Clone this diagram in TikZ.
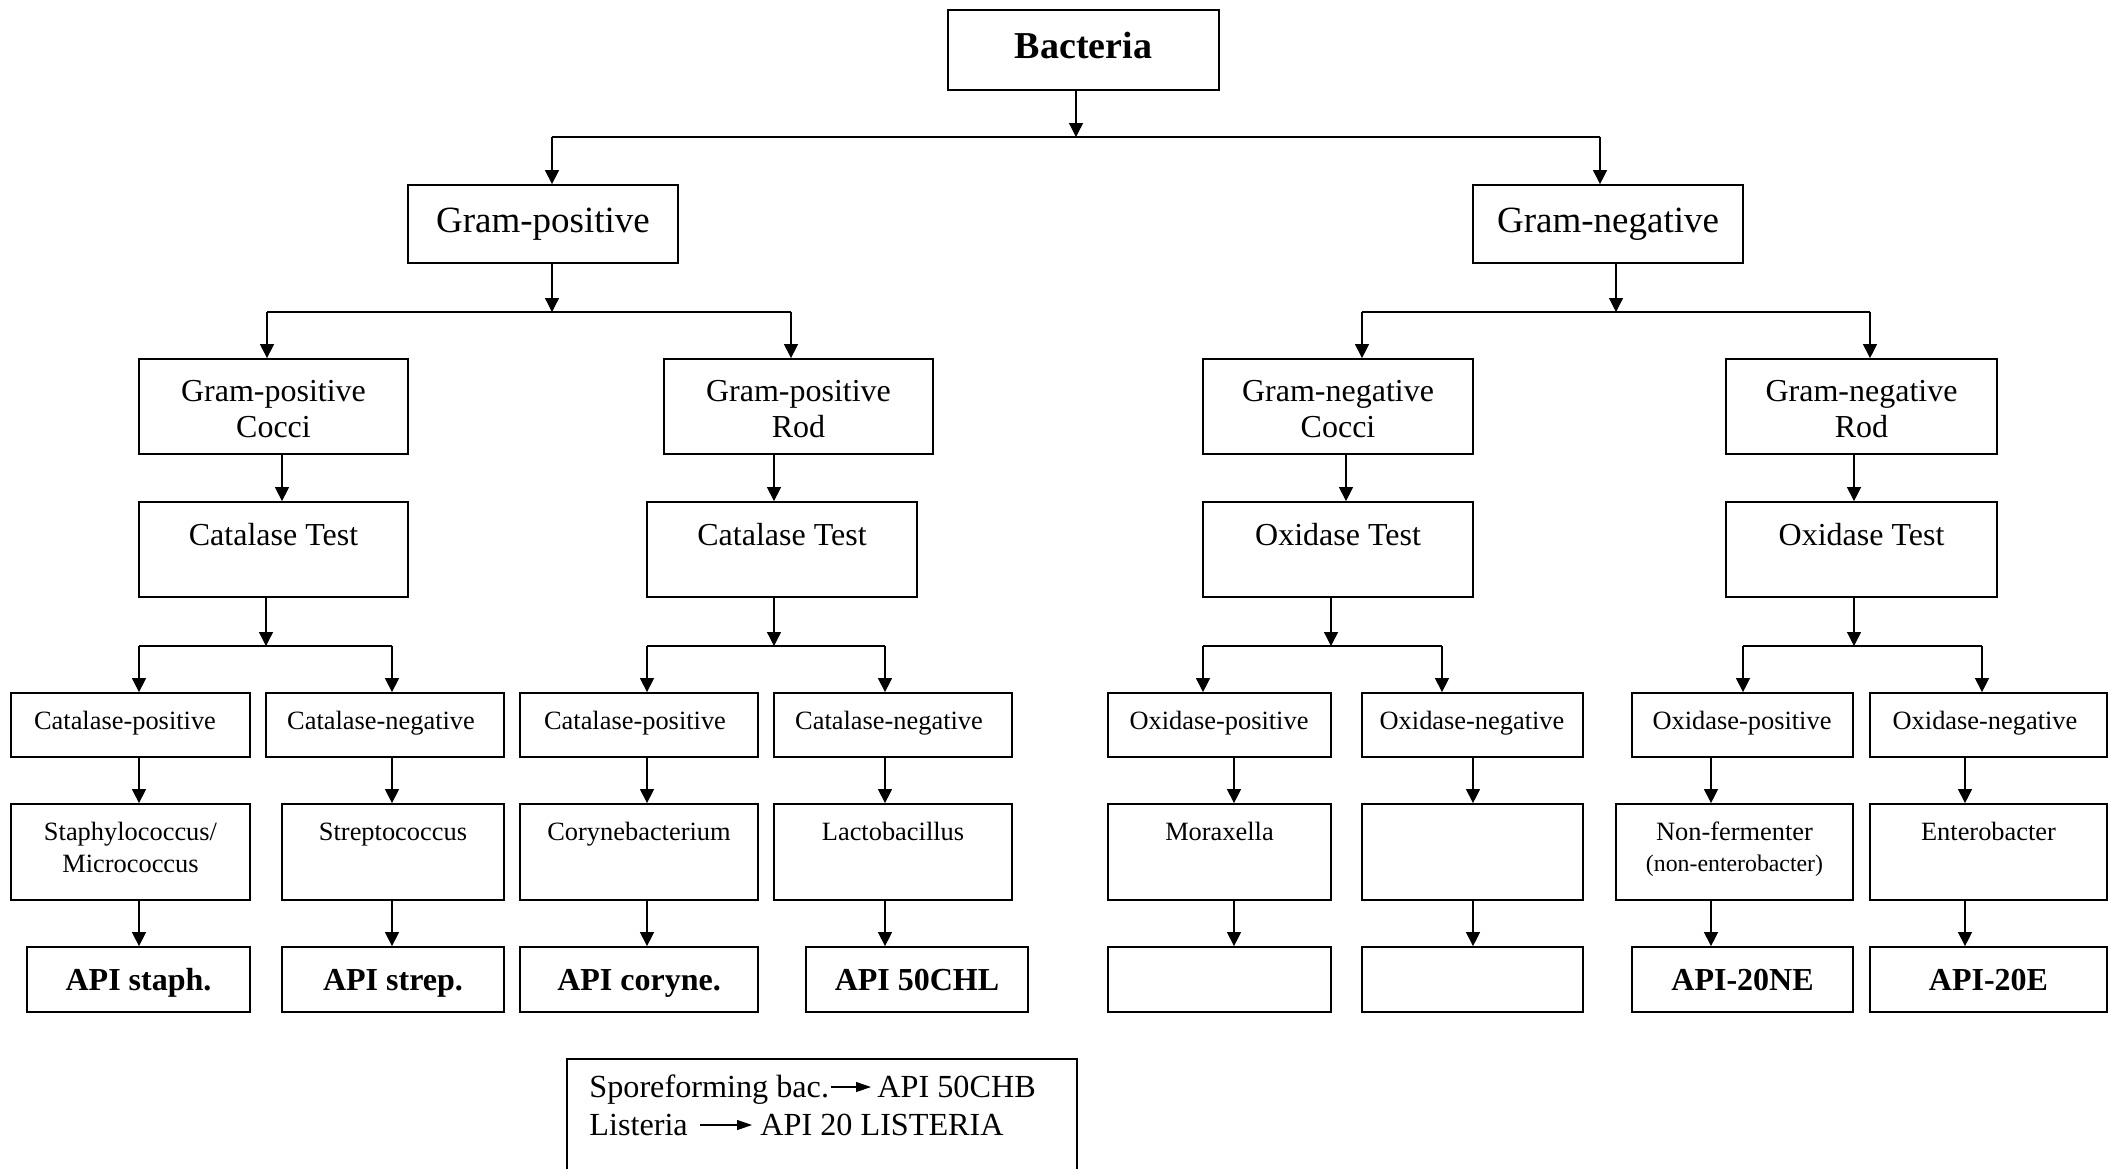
\documentclass[tikz,border=0pt]{standalone}
\usepackage{fontspec}
\setmainfont{Liberation Serif}
\usetikzlibrary{fit,arrows.meta}
\begin{document}
\begin{tikzpicture}[x=0.5pt,y=-0.5pt,
  box/.style={draw, line width=0.9pt, inner sep=0pt},
  ln/.style={line width=0.65pt},
  arr/.style={line width=0.65pt, -{Triangle[length=7pt,width=7pt]}},
  tarr/.style={line width=0.55pt, -{Triangle[length=7.5pt,width=5pt]}},
  tx/.style={inner sep=0pt, anchor=base},
  fb/.style={font=\fontsize{19}{22}\selectfont\bfseries},
  fl/.style={font=\fontsize{18.5}{22}\selectfont},
  fm/.style={font=\fontsize{16}{18}\selectfont},
  fs/.style={font=\fontsize{13.2}{15}\selectfont},
  fxs/.style={font=\fontsize{11.9}{14}\selectfont},
  fab/.style={font=\fontsize{16}{18}\selectfont\bfseries},
  fn/.style={font=\fontsize{16.1}{18}\selectfont},
]
\useasboundingbox (0,0) rectangle (2118,1168);
\clip (0,0) rectangle (2118,1168);

% ---------- boxes ----------
\node[box, fit={(948,10) (1219,90)}] (bact) {};
\node[box, fit={(408,185) (678,263)}] (gp) {};
\node[box, fit={(1473,185) (1743,263)}] (gn) {};

\node[box, fit={(139,359) (408,454)}] (gpc) {};
\node[box, fit={(664,359) (933,454)}] (gpr) {};
\node[box, fit={(1203,359) (1473,454)}] (gnc) {};
\node[box, fit={(1726,359) (1997,454)}] (gnr) {};

\node[box, fit={(139,502) (408,597)}] (cat1) {};
\node[box, fit={(647,502) (917,597)}] (cat2) {};
\node[box, fit={(1203,502) (1473,597)}] (ox1) {};
\node[box, fit={(1726,502) (1997,597)}] (ox2) {};

\node[box, fit={(11,693) (250,757)}] (cp1) {};
\node[box, fit={(266,693) (504,757)}] (cn1) {};
\node[box, fit={(520,693) (758,757)}] (cp2) {};
\node[box, fit={(774,693) (1012,757)}] (cn2) {};
\node[box, fit={(1108,693) (1331,757)}] (op1) {};
\node[box, fit={(1362,693) (1583,757)}] (on1) {};
\node[box, fit={(1632,693) (1853,757)}] (op2) {};
\node[box, fit={(1870,693) (2107,757)}] (on2) {};

\node[box, fit={(11,804) (250,900)}] (staph) {};
\node[box, fit={(282,804) (504,900)}] (strep) {};
\node[box, fit={(520,804) (758,900)}] (coryne) {};
\node[box, fit={(774,804) (1012,900)}] (lacto) {};
\node[box, fit={(1108,804) (1331,900)}] (morax) {};
\node[box, fit={(1362,804) (1583,900)}] (empA) {};
\node[box, fit={(1616,804) (1853,900)}] (nonf) {};
\node[box, fit={(1870,804) (2107,900)}] (entero) {};

\node[box, fit={(27,947) (250,1012)}] (apistaph) {};
\node[box, fit={(282,947) (504,1012)}] (apistrep) {};
\node[box, fit={(520,947) (758,1012)}] (apicor) {};
\node[box, fit={(806,947) (1028,1012)}] (apichl) {};
\node[box, fit={(1108,947) (1331,1012)}] (empB) {};
\node[box, fit={(1362,947) (1583,1012)}] (empC) {};
\node[box, fit={(1632,947) (1853,1012)}] (apine) {};
\node[box, fit={(1870,947) (2107,1012)}] (apie) {};

\node[box, fit={(567,1059) (1077,1220)}] (note) {};

% ---------- texts ----------
\node[tx, fb] (t-bact) at (1083.5,58) {Bacteria};
\node[tx, fl] (t-gp) at (543,232) {Gram-positive};
\node[tx, fl] (t-gn) at (1608,232) {Gram-negative};

\node[tx, fm] (t-gpc1) at (273.5,401) {Gram-positive};
\node[tx, fm] (t-gpc2) at (273.5,437) {Cocci};
\node[tx, fm] (t-gpr1) at (798.5,401) {Gram-positive};
\node[tx, fm] (t-gpr2) at (798.5,437) {Rod};
\node[tx, fm] (t-gnc1) at (1338,401) {Gram-negative};
\node[tx, fm] (t-gnc2) at (1338,437) {Cocci};
\node[tx, fm] (t-gnr1) at (1861.5,401) {Gram-negative};
\node[tx, fm] (t-gnr2) at (1861.5,437) {Rod};

\node[tx, fm] (t-cat1) at (273.5,545) {Catalase Test};
\node[tx, fm] (t-cat2) at (782,545) {Catalase Test};
\node[tx, fm] (t-ox1) at (1338,545) {Oxidase Test};
\node[tx, fm] (t-ox2) at (1861.5,545) {Oxidase Test};

\node[tx, fs] (t-cp1) at (125,729) {Catalase-positive};
\node[tx, fs] (t-cn1) at (381,729) {Catalase-negative};
\node[tx, fs] (t-cp2) at (635,729) {Catalase-positive};
\node[tx, fs] (t-cn2) at (889,729) {Catalase-negative};
\node[tx, fs] (t-op1) at (1219,729) {Oxidase-positive};
\node[tx, fs] (t-on1) at (1472,729) {Oxidase-negative};
\node[tx, fs] (t-op2) at (1742,729) {Oxidase-positive};
\node[tx, fs] (t-on2) at (1985,729) {Oxidase-negative};

\node[tx, fs] (t-staph1) at (130.5,840) {Staphylococcus/};
\node[tx, fs] (t-staph2) at (130.5,872) {Micrococcus};
\node[tx, fs] (t-strep) at (393,840) {Streptococcus};
\node[tx, fs] (t-coryne) at (639,840) {Corynebacterium};
\node[tx, fs] (t-lacto) at (893,840) {Lactobacillus};
\node[tx, fs] (t-morax) at (1219.5,840) {Moraxella};
\node[tx, fs] (t-nonf1) at (1734.5,840) {Non-fermenter};
\node[tx, fxs] (t-nonf2) at (1734.5,871) {(non-enterobacter)};
\node[tx, fs] (t-entero) at (1988.5,840) {Enterobacter};

\node[tx, fab] (t-apistaph) at (138.5,990) {API staph.};
\node[tx, fab] (t-apistrep) at (393,990) {API strep.};
\node[tx, fab] (t-apicor) at (639,990) {API coryne.};
\node[tx, fab] (t-apichl) at (917,990) {API 50CHL};
\node[tx, fab] (t-apine) at (1742.5,990) {API-20NE};
\node[tx, fab] (t-apie) at (1988.5,990) {API-20E};

\node[tx, fn, anchor=base west] (spore) at (589,1097) {Sporeforming bac.};
\node[tx, fn, anchor=base west] (chb) at (877,1097) {API 50CHB};
\node[tx, fn, anchor=base west] (list) at (589,1135) {Listeria};
\node[tx, fn, anchor=base west] (list20) at (760,1135) {API 20 LISTERIA};
\draw[tarr, shorten <=1pt, shorten >=3pt] ([yshift=5pt]spore.base east) -- ([yshift=5pt]chb.base west);
\draw[tarr, shorten <=6pt, shorten >=4pt] ([yshift=5pt]list.base east) -- ([yshift=5pt]list20.base west);

% ---------- junction coordinates ----------
\coordinate (j0) at (1076,137);
\coordinate (g1) at (552,137);
\coordinate (g2) at (1600,137);
\coordinate (j1) at (552,312);
\coordinate (h1) at (267,312);
\coordinate (h2) at (791,312);
\coordinate (j2) at (1616,312);
\coordinate (h3) at (1362,312);
\coordinate (h4) at (1870,312);
\coordinate (k1) at (282,0);
\coordinate (k2) at (774,0);
\coordinate (k3) at (1346,0);
\coordinate (k4) at (1854,0);
\coordinate (j3) at (266,646);
\coordinate (j4) at (774,646);
\coordinate (j5) at (1331,646);
\coordinate (j6) at (1854,646);
\coordinate (m1) at (139,646);
\coordinate (m2) at (392,646);
\coordinate (m3) at (647,646);
\coordinate (m4) at (885,646);
\coordinate (m5) at (1203,646);
\coordinate (m6) at (1442,646);
\coordinate (m7) at (1743,646);
\coordinate (m8) at (1982,646);
\coordinate (n1) at (139,0);
\coordinate (n2) at (392,0);
\coordinate (n3) at (647,0);
\coordinate (n4) at (885,0);
\coordinate (n5) at (1234,0);
\coordinate (n6) at (1473,0);
\coordinate (n7) at (1711,0);
\coordinate (n8) at (1965,0);

% ---------- connectors ----------
\draw[arr] (bact.south -| j0) -- (j0);
\draw[ln] (g1) -- (g2);
\draw[arr] (g1) -- (g1 |- gp.north);
\draw[arr] (g2) -- (g2 |- gn.north);

\draw[arr] (gp.south -| j1) -- (j1);
\draw[ln] (h1) -- (h2);
\draw[arr] (h1) -- (h1 |- gpc.north);
\draw[arr] (h2) -- (h2 |- gpr.north);
\draw[arr] (gn.south -| j2) -- (j2);
\draw[ln] (h3) -- (h4);
\draw[arr] (h3) -- (h3 |- gnc.north);
\draw[arr] (h4) -- (h4 |- gnr.north);

\draw[arr] (gpc.south -| k1) -- (cat1.north -| k1);
\draw[arr] (gpr.south -| k2) -- (cat2.north -| k2);
\draw[arr] (gnc.south -| k3) -- (ox1.north -| k3);
\draw[arr] (gnr.south -| k4) -- (ox2.north -| k4);

\draw[arr] (cat1.south -| j3) -- (j3);
\draw[arr] (cat2.south -| j4) -- (j4);
\draw[arr] (ox1.south -| j5) -- (j5);
\draw[arr] (ox2.south -| j6) -- (j6);
\draw[ln] (m1) -- (m2);
\draw[ln] (m3) -- (m4);
\draw[ln] (m5) -- (m6);
\draw[ln] (m7) -- (m8);
\draw[arr] (m1) -- (m1 |- cp1.north);
\draw[arr] (m2) -- (m2 |- cn1.north);
\draw[arr] (m3) -- (m3 |- cp2.north);
\draw[arr] (m4) -- (m4 |- cn2.north);
\draw[arr] (m5) -- (m5 |- op1.north);
\draw[arr] (m6) -- (m6 |- on1.north);
\draw[arr] (m7) -- (m7 |- op2.north);
\draw[arr] (m8) -- (m8 |- on2.north);

\draw[arr] (cp1.south -| n1) -- (staph.north -| n1);
\draw[arr] (cn1.south -| n2) -- (strep.north -| n2);
\draw[arr] (cp2.south -| n3) -- (coryne.north -| n3);
\draw[arr] (cn2.south -| n4) -- (lacto.north -| n4);
\draw[arr] (op1.south -| n5) -- (morax.north -| n5);
\draw[arr] (on1.south -| n6) -- (empA.north -| n6);
\draw[arr] (op2.south -| n7) -- (nonf.north -| n7);
\draw[arr] (on2.south -| n8) -- (entero.north -| n8);

\draw[arr] (staph.south -| n1) -- (apistaph.north -| n1);
\draw[arr] (strep.south -| n2) -- (apistrep.north -| n2);
\draw[arr] (coryne.south -| n3) -- (apicor.north -| n3);
\draw[arr] (lacto.south -| n4) -- (apichl.north -| n4);
\draw[arr] (morax.south -| n5) -- (empB.north -| n5);
\draw[arr] (empA.south -| n6) -- (empC.north -| n6);
\draw[arr] (nonf.south -| n7) -- (apine.north -| n7);
\draw[arr] (entero.south -| n8) -- (apie.north -| n8);
\end{tikzpicture}
\end{document}
